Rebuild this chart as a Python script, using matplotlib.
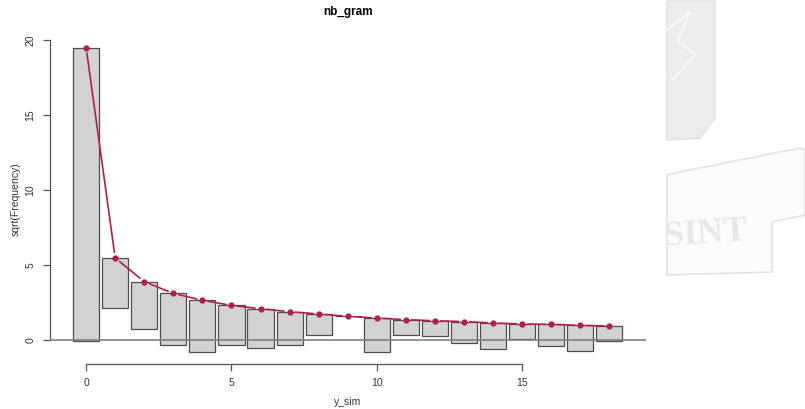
import numpy as np
import matplotlib.pyplot as plt
from matplotlib.patches import Polygon

# hanging rootogram: counts 0..18
counts = np.arange(19)
observed = [382, 11, 10, 12, 12, 7, 7, 5, 2, 0, 5, 1, 1, 2, 3, 1, 2, 3, 1]
sqrt_expected = [19.50, 5.49, 3.91, 3.13, 2.67, 2.33, 2.11, 1.91, 1.76, 1.60,
                 1.49, 1.38, 1.31, 1.25, 1.16, 1.09, 1.07, 1.00, 0.96]
x_ticks = [0, 5, 10, 15]
y_ticks = [0, 5, 10, 15, 20]

plt.rcParams['font.family'] = ['Liberation Sans', 'DejaVu Sans']

W, H = 805, 409
fig = plt.figure(figsize=(W / 100, H / 100), dpi=100)

def fp(pts):
    # pixel coords -> figure fraction
    return [(x / W, 1 - y / H) for x, y in pts]

# faint logo watermark on the right
fig.patches.append(Polygon(fp([(667, 0), (715, 0), (715, 118), (700, 138),
                               (667, 140)]), closed=True,
                           transform=fig.transFigure, fc='#ececec',
                           ec='#e2e2e2', lw=1.2))
fig.patches.append(Polygon(fp([(667, 30), (690, 12), (678, 40), (695, 55),
                               (672, 80)]), closed=False,
                           transform=fig.transFigure, fill=False,
                           ec='#f7f7f7', lw=2))
fig.patches.append(Polygon(fp([(667, 175), (680, 172), (800, 148), (805, 150),
                               (805, 215), (772, 222), (772, 272), (667, 275)]),
                           closed=True, transform=fig.transFigure,
                           fc='#fcfcfc', ec='#e4e4e4', lw=1.3))
fig.text(662 / W, 1 - 246 / H, 'SINT', family='Liberation Serif', weight='bold',
         fontsize=26, color='#e8e8e8', rotation=4, ha='left', va='baseline')

ax = fig.add_axes([49.5 / W, 1 - 364 / H, (646 - 49.5) / W, (364 - 34.6) / H])

exp_ = np.array(sqrt_expected)
obs_sqrt = np.sqrt(np.array(observed))
bottoms = exp_ - obs_sqrt

ax.bar(counts, obs_sqrt, bottom=bottoms, width=0.9, color='#d3d3d3',
       edgecolor='#4d4d4d', linewidth=0.9, zorder=2)
ax.axhline(0, color='#808080', lw=1.2, zorder=3)

red = '#b61a51'
for i in range(len(counts) - 1):
    ax.annotate('', xy=(counts[i + 1], exp_[i + 1]), xytext=(counts[i], exp_[i]),
                arrowprops=dict(arrowstyle='-', color=red, lw=1.2,
                                shrinkA=4, shrinkB=4), zorder=4)
ax.plot(counts, exp_, 'o', color=red, ms=3.5, zorder=5)

ax.set_xlim(-1.26, 19.26)
ax.set_ylim(-1.57, 20.36)
for s in ['top', 'right']:
    ax.spines[s].set_visible(False)
ax.spines['left'].set_bounds(0, 20)
ax.spines['bottom'].set_bounds(0, 15)
for s in ['left', 'bottom']:
    ax.spines[s].set_color('#555555')
    ax.spines[s].set_linewidth(0.9)
ax.set_xticks(x_ticks)
ax.set_yticks(y_ticks)
ax.tick_params(colors='#555555', labelcolor='#333333', length=5, width=0.9,
               labelsize=7.5, pad=5)
for lab in ax.get_yticklabels():
    lab.set_rotation(90)
    lab.set_va('center')

fig.text(348 / W, 1 - 12 / H, 'nb_gram', fontsize=8.5, fontweight='bold',
         ha='center', va='center')
fig.text(348 / W, 1 - 402 / H, 'y_sim', fontsize=7.5, color='#333333',
         ha='center', va='center')
fig.text(16 / W, 1 - 199 / H, 'sqrt(Frequency)', fontsize=7.5, color='#333333',
         rotation=90, ha='center', va='center')

fig.savefig('out.png', dpi=100)
